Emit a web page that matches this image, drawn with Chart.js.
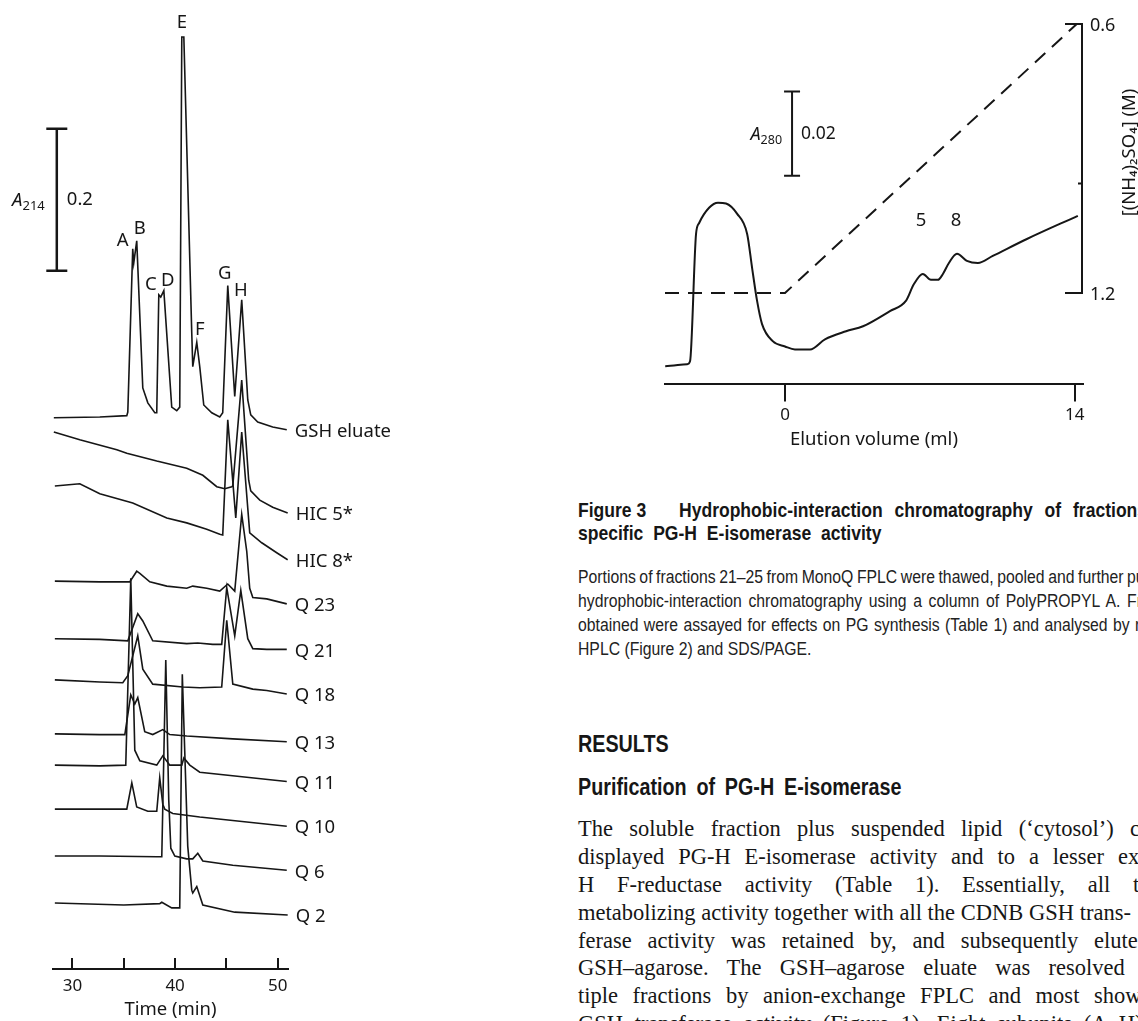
<!DOCTYPE html>
<html>
<head>
<meta charset="utf-8">
<script src="https://cdn.jsdelivr.net/npm/chart.js@4.4.1/dist/chart.umd.min.js"></script>
<style>
  html, body { margin: 0; padding: 0; background: #fff; }
  body { width: 1138px; height: 1021px; overflow: hidden; position: relative; }
  canvas { position: absolute; }
  #hplc { left: 0; top: 0; }
  #hic { left: 560px; top: 0; }
  .ln { position: absolute; white-space: nowrap; line-height: 1.2; color: #161616; }
  .cap-title { font: bold 21px 'Liberation Sans', Arial, sans-serif; transform: scaleX(0.835); transform-origin: 0 0; }
  .cap-body { font: 17.5px 'Liberation Sans', Arial, sans-serif; color: #222; transform: scaleX(0.9); transform-origin: 0 0; }
  .head { font: bold 23.5px 'Liberation Sans', Arial, sans-serif; transform: scaleX(0.84); transform-origin: 0 0; }
  .body { font: 22.5px 'Liberation Serif', 'Times New Roman', serif; }
</style>
</head>
<body>
<canvas id="hplc" width="400" height="1021"></canvas>
<canvas id="hic" width="578" height="460"></canvas>

<div class="ln cap-title" style="left:578px;top:498px">Figure 3</div>
<div class="ln cap-title fit" data-sx="0.835" data-anchor="3" data-x="1073" style="left:679px;top:498px">Hydrophobic-interaction chromatography of fractions with</div>
<div class="ln cap-title fit" data-sx="0.835" data-anchor="3" data-x="821" style="left:578px;top:521px">specific PG-H E-isomerase activity</div>

<div class="ln cap-body fit" data-sx="0.9" data-anchor="11" data-x="1078" style="left:578px;top:567px">Portions of fractions 21–25 from MonoQ FPLC were thawed, pooled and further purified by</div>
<div class="ln cap-body fit" data-sx="0.9" data-anchor="7" data-x="1107" style="left:578px;top:591px">hydrophobic-interaction chromatography using a column of PolyPROPYL A. Fractions</div>
<div class="ln cap-body fit" data-sx="0.9" data-anchor="12" data-x="1113" style="left:578px;top:615px">obtained were assayed for effects on PG synthesis (Table 1) and analysed by reverse-phase</div>
<div class="ln cap-body" style="left:578px;top:639px">HPLC (Figure 2) and SDS/PAGE.</div>

<div class="ln head" style="left:578px;top:731px">RESULTS</div>
<div class="ln head fit" data-sx="0.84" data-anchor="3" data-x="784" style="left:578px;top:774px">Purification of PG-H E-isomerase</div>

<div class="ln body fit" data-anchor="7" data-x="1130" style="left:578px;top:816px">The soluble fraction plus suspended lipid (‘cytosol’) clearly</div>
<div class="ln body fit" data-anchor="8" data-x="1118" style="left:578px;top:844px">displayed PG-H E-isomerase activity and to a lesser extent PG-</div>
<div class="ln body fit" data-anchor="7" data-x="1133" style="left:578px;top:872px">H F-reductase activity (Table 1). Essentially, all the PG-H</div>
<div class="ln body fit" data-anchor="7" data-x="1029" style="left:578px;top:900px">metabolizing activity together with all the CDNB GSH trans-</div>
<div class="ln body fit" data-anchor="7" data-x="1094" style="left:578px;top:928px">ferase activity was retained by, and subsequently eluted from,</div>
<div class="ln body fit" data-anchor="5" data-x="1049" style="left:578px;top:955px">GSH–agarose. The GSH–agarose eluate was resolved into mul-</div>
<div class="ln body fit" data-anchor="7" data-x="1094" style="left:578px;top:983px">tiple fractions by anion-exchange FPLC and most showed CDNB</div>
<div class="ln body" style="left:578px;top:1011px;word-spacing:6px">GSH transferase activity (Figure 1). Eight subunits (A–H) of</div>

<script>
// ---- Figure 2 (left): reverse-phase HPLC traces, time (min) vs A214 (mAU above each trace's stacking offset)
const gshEluate = [[28.18,0],[32.66,1],[35.29,3],[35.39,8],[35.87,238],[35.97,218],[36.26,249],[36.85,42],[37.34,21],[38.02,7],[38.21,7],[38.41,173],[38.60,170],[38.90,179],[39.67,15],[40.16,10],[40.45,15],[40.65,536],[40.85,536],[41.62,120],[41.72,72],[42.11,106],[42.40,72],[42.79,18],[43.57,7],[44.35,1],[44.64,7],[45.13,186],[45.81,30],[46.49,166],[47.08,25],[47.37,4],[48.05,-6],[49.51,-13],[50.88,-17]];
const hic5 = [[28.18,0],[30.71,-11],[34.32,-25],[35.29,-30],[38.21,-41],[41.13,-51],[42.70,-61],[44.06,-77],[44.84,-80],[45.52,-77],[45.62,-76],[46.49,73],[47.17,-68],[47.37,-83],[48.25,-96],[49.51,-106],[50.97,-114]];
const hic8 = [[28.28,0],[30.71,3],[32.66,-11],[35.87,-24],[39.19,-45],[41.13,-52],[43.08,-61],[44.35,-68],[44.64,-69],[45.13,93],[45.91,-45],[46.49,76],[47.27,-66],[48.44,-80],[49.90,-94],[50.97,-104]];
const q23 = [[28.28,0],[32.66,-1],[35.58,-1],[36.26,14],[36.56,11],[37.53,-1],[39.19,-7],[41.13,-10],[41.72,-7],[43.08,-10],[44.35,-14],[45.13,-4],[45.81,-14],[46.49,94],[46.98,42],[47.27,-10],[47.57,-23],[48.93,-25],[50.88,-32]];
const q21 = [[28.28,0],[32.66,-1],[35.39,-3],[36.36,35],[36.85,25],[37.82,-3],[41.13,-7],[42.21,-6],[43.67,-8],[44.54,-8],[45.03,72],[45.81,4],[46.40,68],[47.08,0],[47.57,-14],[48.93,-15],[50.88,-15]];
const q18 = [[28.28,0],[32.66,-3],[34.90,-4],[35.39,6],[36.36,62],[36.85,15],[37.82,-6],[40.75,-10],[42.40,-11],[44.54,-10],[45.03,84],[45.62,-6],[47.57,-13],[48.93,-15],[50.88,-20]];
const q13 = [[28.28,0],[32.66,-1],[35.10,-1],[35.68,55],[36.07,42],[36.36,51],[37.04,3],[37.82,-1],[38.80,6],[39.48,-1],[41.13,-3],[45.62,-7],[50.88,-11]];
const q11 = [[28.28,0],[32.66,-1],[35.19,0],[35.68,263],[36.07,21],[36.56,6],[38.21,0],[38.80,13],[39.48,0],[40.65,0],[40.85,10],[41.43,0],[42.40,-10],[50.88,-23]];
const q10 = [[28.28,0],[32.66,0],[35.29,0],[35.78,37],[36.26,3],[37.34,-3],[38.21,-3],[38.50,44],[38.80,7],[38.99,0],[39.77,-6],[42.40,-11],[50.88,-24]];
const q6 = [[28.28,0],[32.66,0],[38.21,-1],[38.70,-1],[39.09,276],[39.38,79],[39.58,11],[39.97,0],[41.13,-4],[41.72,-4],[42.21,4],[42.70,-7],[45.62,-13],[50.88,-20]];
const q2 = [[28.28,0],[35.00,-3],[38.50,-1],[38.70,1],[39.67,-7],[40.45,-7],[40.70,322],[41.23,80],[41.62,18],[41.72,14],[42.11,23],[42.70,-3],[45.81,-13],[50.97,-17]];

const traces = [gshEluate, hic5, hic8, q23, q21, q18, q13, q11, q10, q6, q2];
const traceNames = ['GSH eluate', 'HIC 5*', 'HIC 8*', 'Q 23', 'Q 21', 'Q 18', 'Q 13', 'Q 11', 'Q 10', 'Q 6', 'Q 2'];
const traceOffsets = [776, 756, 680, 546, 465, 407, 331, 287, 225, 159, 93];
const timeTicks = [30, 35, 40, 45, 50];
const timeTickLabels = ['30', '', '40', '', '50'];

// ---- Figure 3 (right): hydrophobic-interaction chromatography
const elutionVolume = [-5.79,-4.73,-4.59,-4.30,-4.15,-3.67,-3.24,-2.85,-2.32,-1.83,-1.59,-1.35,-1.11,-0.58,0,0.48,1.21,1.93,2.95,3.77,5.07,5.84,6.23,6.66,7.05,7.39,7.63,7.92,8.31,8.79,9.32,10.04,11.69,14.15];
const absorbance280 = [0.0043,0.0048,0.0055,0.0357,0.0383,0.0419,0.0431,0.0429,0.0405,0.0357,0.0276,0.0198,0.0143,0.0102,0.0090,0.0083,0.0083,0.0107,0.0126,0.0138,0.0174,0.0198,0.0238,0.0262,0.0248,0.0248,0.0262,0.0288,0.0310,0.0293,0.0288,0.0305,0.0345,0.0400];
const gradientVolume = [-5.8, 0, 14.1];
const gradientConc = [1.2, 1.2, 0.6];   // (NH4)2SO4, M
const volumeTicks = [0, 14];
const concTicks = [0.6, 1.2];
const concMinorTicks = [0.956];

const ink = '#161616';
const sans = '"Noto Sans", "Open Sans", sans-serif';

function drawBar(ctx, px, pTop, pBot, half, lw) {
  ctx.lineWidth = lw;
  ctx.beginPath();
  ctx.moveTo(px, pTop); ctx.lineTo(px, pBot);
  ctx.moveTo(px - half, pTop); ctx.lineTo(px + half, pTop);
  ctx.moveTo(px - half, pBot); ctx.lineTo(px + half, pBot);
  ctx.stroke();
}

// italic A with subscript wavelength, right-aligned at rightX
function drawAbsLabel(ctx, rightX, midY, sub, size, subSize) {
  ctx.textBaseline = 'alphabetic';
  ctx.textAlign = 'left';
  ctx.font = subSize + 'px ' + sans;
  const subW = ctx.measureText(sub).width;
  ctx.font = 'italic ' + size + 'px ' + sans;
  const aW = ctx.measureText('A').width;
  const base = midY + size * 0.36;
  ctx.fillText('A', rightX - subW - aW, base);
  ctx.font = subSize + 'px ' + sans;
  ctx.fillText(sub, rightX - subW, base + subSize * 0.3);
}

const hplcMarks = {
  id: 'hplcMarks',
  afterDatasetsDraw(chart, args, opts) {
    const { ctx, scales: { x, y } } = chart;
    ctx.save();
    ctx.fillStyle = ink;
    ctx.strokeStyle = ink;
    ctx.font = '18.5px ' + sans;
    ctx.textBaseline = 'middle';
    ctx.textAlign = 'left';
    chart.data.datasets.forEach(ds => {
      const last = ds.data[ds.data.length - 1];
      ctx.fillText(ds.label, x.getPixelForValue(last.x) + 8, y.getPixelForValue(last.y) + 2);
    });
    ctx.textAlign = 'center';
    opts.peaks.forEach(p => ctx.fillText(p.text, x.getPixelForValue(p.t), y.getPixelForValue(p.v)));

    const bx = x.getPixelForValue(opts.bar.t);
    const bTop = y.getPixelForValue(opts.bar.to);
    const bBot = y.getPixelForValue(opts.bar.from);
    drawBar(ctx, bx, bTop, bBot, 10.5, 2.5);
    const mid = (bTop + bBot) / 2;
    ctx.font = '18.5px ' + sans;
    ctx.textAlign = 'left';
    ctx.textBaseline = 'middle';
    ctx.fillText(opts.bar.label, bx + 10, mid);
    drawAbsLabel(ctx, bx - 12, mid, '214', 18.5, 13);
    ctx.restore();
  }
};

const hicMarks = {
  id: 'hicMarks',
  afterDatasetsDraw(chart, args, opts) {
    const { ctx, chartArea, scales: { x, y, y2 } } = chart;
    ctx.save();
    ctx.fillStyle = ink;
    ctx.strokeStyle = ink;

    // right bracket axis for the (NH4)2SO4 gradient
    const ax = chartArea.right - 1;
    const pTop = y2.getPixelForValue(concTicks[0]);
    const pBot = y2.getPixelForValue(concTicks[1]);
    ctx.lineWidth = 2;
    ctx.beginPath();
    ctx.moveTo(ax - 17, pTop); ctx.lineTo(ax, pTop); ctx.lineTo(ax, pBot); ctx.lineTo(ax - 17, pBot);
    concMinorTicks.forEach(v => {
      const p = y2.getPixelForValue(v);
      ctx.moveTo(ax, p); ctx.lineTo(ax - 4, p);
    });
    ctx.stroke();
    ctx.font = '18px ' + sans;
    ctx.textAlign = 'left';
    ctx.textBaseline = 'middle';
    concTicks.forEach(v => ctx.fillText(v.toFixed(1), ax + 8, y2.getPixelForValue(v) + 2));

    ctx.save();
    ctx.translate(ax + 48, (pTop + pBot) / 2 - 6);
    ctx.rotate(-Math.PI / 2);
    ctx.textAlign = 'center';
    ctx.font = '18.5px ' + sans;
    ctx.fillText(opts.axisTitle, 0, 0);
    ctx.restore();

    // A280 scale bar
    const bx = x.getPixelForValue(opts.bar.ml);
    const bTop = y.getPixelForValue(opts.bar.to);
    const bBot = y.getPixelForValue(opts.bar.from);
    drawBar(ctx, bx, bTop, bBot, 8, 2);
    const mid = (bTop + bBot) / 2;
    ctx.font = '17.5px ' + sans;
    ctx.textAlign = 'left';
    ctx.textBaseline = 'middle';
    ctx.fillText(opts.bar.label, bx + 9, mid);
    drawAbsLabel(ctx, bx - 10, mid, '280', 18, 12.5);

    // fraction labels
    ctx.font = '18.5px ' + sans;
    ctx.textAlign = 'center';
    ctx.textBaseline = 'middle';
    opts.peaks.forEach(p => ctx.fillText(p.text, x.getPixelForValue(p.ml), y.getPixelForValue(p.a)));
    ctx.restore();
  }
};

new Chart(document.getElementById('hplc'), {
  type: 'line',
  data: {
    datasets: traces.map((tr, i) => ({
      label: traceNames[i],
      data: tr.map(([t, a]) => ({ x: t, y: a + traceOffsets[i] })),
      borderColor: ink,
      borderWidth: 1.6,
      pointRadius: 0,
      tension: 0,
      fill: false
    }))
  },
  options: {
    responsive: false,
    animation: false,
    devicePixelRatio: 1,
    layout: { padding: { left: 53, right: 112, top: 10, bottom: 0 } },
    plugins: {
      legend: { display: false },
      tooltip: { enabled: false },
      hplcMarks: {
        peaks: [
          { text: 'A', t: 34.90, v: 1025 }, { text: 'B', t: 36.56, v: 1042 },
          { text: 'C', t: 37.63, v: 963 },  { text: 'D', t: 39.29, v: 969 },
          { text: 'E', t: 40.65, v: 1332 }, { text: 'F', t: 42.40, v: 900 },
          { text: 'G', t: 44.84, v: 979 },  { text: 'H', t: 46.40, v: 955 }
        ],
        bar: { t: 28.47, from: 983, to: 1183, label: '0.2' }
      }
    },
    scales: {
      x: {
        type: 'linear',
        min: 28.1,
        max: 51,
        afterBuildTicks: s => { s.ticks = timeTicks.map(v => ({ value: v })); },
        border: { display: true, color: ink, width: 2 },
        grid: { drawOnChartArea: false, drawTicks: true, tickLength: -11, lineWidth: 2, color: ink },
        ticks: {
          padding: 18, color: ink, maxRotation: 0, autoSkip: false,
          font: { family: sans, size: 17 },
          callback: (v, i) => timeTickLabels[i]
        },
        title: {
          display: true, text: 'Time (min)', color: ink,
          font: { family: sans, size: 18.5 },
          padding: { top: -15.6, bottom: 0 }
        }
      },
      y: { display: false, min: 0, max: 1350 }
    }
  },
  plugins: [hplcMarks]
});

new Chart(document.getElementById('hic'), {
  type: 'line',
  data: {
    datasets: [
      {
        label: 'A280',
        data: elutionVolume.map((v, i) => ({ x: v, y: absorbance280[i] })),
        yAxisID: 'y',
        borderColor: ink,
        borderWidth: 2,
        pointRadius: 0,
        cubicInterpolationMode: 'monotone',
        fill: false
      },
      {
        label: '(NH4)2SO4',
        data: gradientVolume.map((v, i) => ({ x: v, y: gradientConc[i] })),
        yAxisID: 'y2',
        borderColor: ink,
        borderWidth: 2,
        borderDash: [14, 9],
        pointRadius: 0,
        tension: 0,
        clip: 4,
        fill: false
      }
    ]
  },
  options: {
    responsive: false,
    animation: false,
    devicePixelRatio: 1,
    layout: { padding: { left: 105, right: 55, top: 24, bottom: 9 } },
    plugins: {
      legend: { display: false },
      tooltip: { enabled: false },
      hicMarks: {
        axisTitle: '[(NH₄)₂SO₄] (M)',
        bar: { ml: 0.34, from: 0.0495, to: 0.0695, label: '0.02' },
        peaks: [{ text: '5', ml: 6.57, a: 0.0388 }, { text: '8', ml: 8.26, a: 0.0388 }]
      }
    },
    scales: {
      x: {
        type: 'linear',
        min: -5.8,
        max: 14.4,
        afterBuildTicks: s => { s.ticks = volumeTicks.map(v => ({ value: v })); },
        border: { display: true, color: ink, width: 2 },
        grid: { drawOnChartArea: false, drawTicks: true, tickLength: 17, lineWidth: 2, color: ink },
        ticks: { padding: 4, color: ink, maxRotation: 0, autoSkip: false, font: { family: sans, size: 17 } },
        title: {
          display: true, text: 'Elution volume (ml)', color: ink,
          font: { family: sans, size: 18.5 },
          padding: { top: -1, bottom: 0 }
        }
      },
      y: { display: false, min: 0, max: 0.0855 },
      y2: { display: false, position: 'right', reverse: true, min: 0.6, max: 1.404 }
    }
  },
  plugins: [hicMarks]
});

// justify text lines so the anchored word lands where it is on the page
const measure = document.createElement('canvas').getContext('2d');
document.querySelectorAll('.fit').forEach(el => {
  const cs = getComputedStyle(el);
  measure.font = cs.fontStyle + ' ' + cs.fontWeight + ' ' + cs.fontSize + ' ' + cs.fontFamily;
  const words = el.textContent.split(' ');
  const k = +el.dataset.anchor;
  const sx = +(el.dataset.sx || 1);
  const left = parseFloat(el.style.left);
  const natural = measure.measureText(words.slice(0, k).join(' ') + ' ').width;
  const ws = ((+el.dataset.x - left) / sx - natural) / k;
  el.style.wordSpacing = ws + 'px';
});
</script>
</body>
</html>
